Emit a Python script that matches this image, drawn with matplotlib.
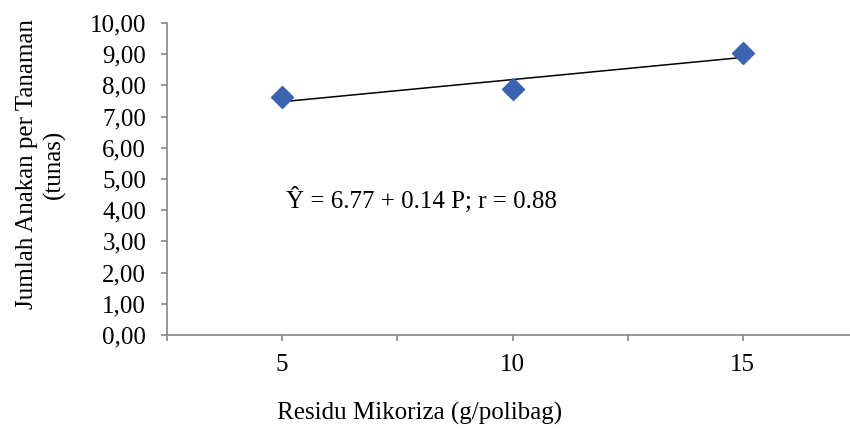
import numpy as np
import matplotlib
matplotlib.use("Agg")
import matplotlib.pyplot as plt
from matplotlib.ticker import FuncFormatter

plt.rcParams['font.family'] = ['Liberation Serif', 'DejaVu Serif']

# data
dosis = [5, 10, 15]
anakan = [7.63, 7.88, 9.05]
x_ticks = [2.5, 5, 7.5, 10, 12.5, 15, 17.5]
x_tick_labels = ['', '5', '', '10', '', '15', '']

# linear trend
b, a = np.polyfit(dosis, anakan, 1)
x_line = np.array([dosis[0], dosis[-1]])

fig = plt.figure(figsize=(8.5, 4.3), dpi=100)
ax = fig.add_axes([167 / 850, 95 / 430, (858 - 167) / 850, 312 / 430])

ax.plot(x_line, a + b * x_line, color='black', lw=1.1, zorder=2)
ax.plot(dosis, anakan, linestyle='none', marker='D', markersize=11,
        color='#3A63B0', zorder=3)

ax.set_xlim(2.5, 17.5)
ax.set_ylim(0, 10)
ax.set_yticks(np.arange(0, 11, 1))
ax.yaxis.set_major_formatter(FuncFormatter(lambda v, p: f"{v:.2f}".replace('.', ',')))
ax.set_xticks(x_ticks)
ax.set_xticklabels(x_tick_labels)

grey = '#868686'
for s in ['top', 'right']:
    ax.spines[s].set_visible(False)
for s in ['left', 'bottom']:
    ax.spines[s].set_color(grey)
    ax.spines[s].set_linewidth(1.2)
ax.tick_params(axis='y', colors=grey, labelcolor='black', labelsize=18,
               length=4, width=1.2, pad=11)
ax.tick_params(axis='x', colors=grey, labelcolor='black', labelsize=18,
               length=4, width=1.2, pad=10)

ax.text(5.08, 4.33, "\u0176 = 6.77 + 0.14 P; r = 0.88", fontsize=18,
        va='center', ha='left')

fig.text(420 / 850, 1 - 413 / 430, "Residu Mikoriza (g/polibag)", fontsize=18,
         ha='center', va='center')
fig.text(41 / 850, 1 - 164 / 430, "Jumlah Anakan per Tanaman\n(tunas)", fontsize=18,
         ha='center', va='center', rotation=90, linespacing=1.25)

fig.savefig('out.png', dpi=100)
